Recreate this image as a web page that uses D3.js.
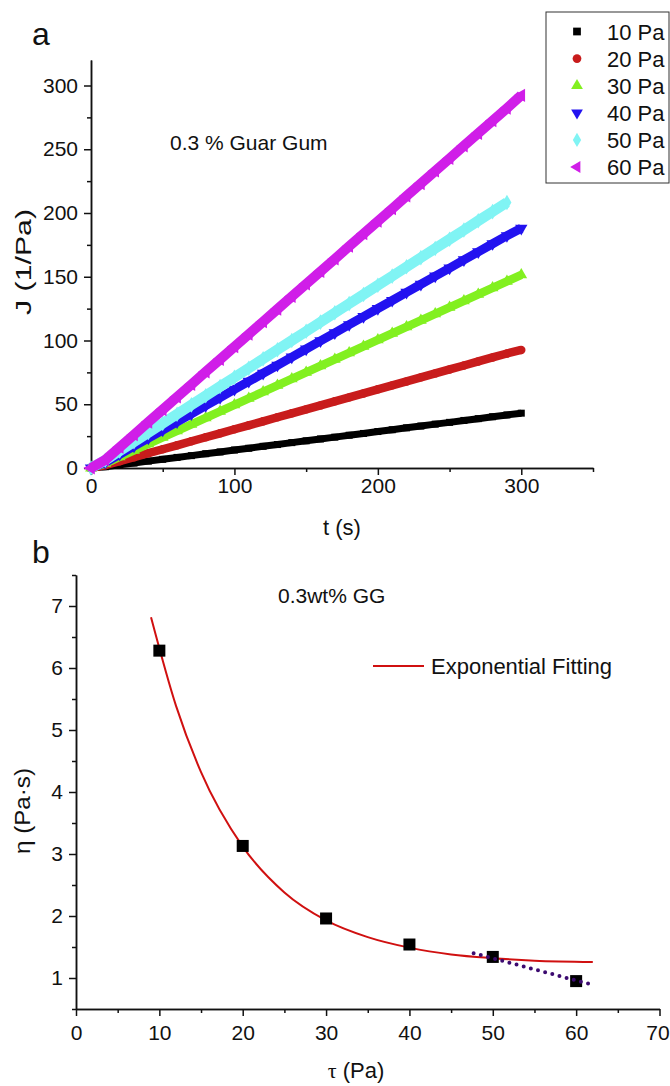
<!DOCTYPE html>
<html>
<head>
<meta charset="utf-8">
<script src="https://cdn.jsdelivr.net/npm/d3@7"></script>
<style>
    body { margin: 0; background: #fff; }
    svg text { font-family: "Liberation Sans", Arial, sans-serif; fill: #111; }
    .axis path, .axis line { stroke: #111; stroke-width: 1.5; }
    .axis text { font-size: 21px; }
</style>
</head>
<body>
<div id="chart"></div>
<script>
// Data
// ============================================================================
// panel a : creep compliance J (1/Pa) against time t (s)
const times = [0, 10, 20, 30, 40, 50, 60, 70, 80, 90, 100, 110, 120, 130, 140, 150,
    160, 170, 180, 190, 200, 210, 220, 230, 240, 250, 260, 270, 280, 290, 300];
const j10Pa = [0, 1.0, 2.5, 3.9, 5.4, 6.8, 8.3, 9.7, 11.2, 12.6, 14.1, 15.5, 17.0, 18.4, 19.9, 21.3,
    22.8, 24.2, 25.7, 27.1, 28.6, 30.0, 31.5, 32.9, 34.4, 35.8, 37.3, 38.7, 40.2, 41.6, 43.0];
const j20Pa = [0, 2.2, 5.3, 8.5, 11.6, 14.7, 17.8, 21.0, 24.1, 27.2, 30.4, 33.5, 36.6, 39.8, 42.9, 46.0,
    49.1, 52.3, 55.4, 58.5, 61.7, 64.8, 67.9, 71.1, 74.2, 77.3, 80.4, 83.6, 86.7, 89.8, 92.6];
const j30Pa = [0, 3.6, 8.7, 13.8, 18.9, 24.0, 29.1, 34.2, 39.3, 44.4, 49.5, 54.6, 59.7, 64.8, 69.9, 75.0,
    80.1, 85.2, 90.3, 95.4, 100.5, 105.6, 110.7, 115.8, 120.9, 126.0, 131.1, 136.2, 141.3, 146.4, 151.5];
const j40Pa = [0, 4.4, 10.8, 17.1, 23.5, 29.8, 36.2, 42.5, 48.9, 55.2, 61.6, 67.9, 74.3, 80.6, 87.0, 93.3,
    99.7, 106.0, 112.4, 118.7, 125.1, 131.4, 137.8, 144.1, 150.5, 156.8, 163.2, 169.5, 175.9, 182.2, 188.0];
const j50Pa = [0, 6.1, 13.4, 20.6, 27.8, 35.0, 42.2, 49.5, 56.7, 63.9, 71.1, 78.3, 85.6, 92.8, 100.0, 107.2,
    114.4, 121.7, 128.9, 136.1, 143.3, 150.5, 157.8, 165.0, 172.2, 179.4, 186.6, 193.9, 201.1, 208.3];
const j60Pa = [0, 6.4, 16.3, 26.1, 36.0, 45.8, 55.7, 65.5, 75.4, 85.2, 95.1, 104.9, 114.8, 124.6, 134.5, 144.3,
    154.2, 164.0, 173.9, 183.7, 193.6, 203.4, 213.3, 223.1, 233.0, 242.8, 252.7, 262.5, 272.4, 282.2, 292.3];
const seriesNames = ["10 Pa", "20 Pa", "30 Pa", "40 Pa", "50 Pa", "60 Pa"];
const xTicksA = [0, 100, 200, 300],
    xMinorA = [50, 150, 250, 350],
    yTicksA = [0, 50, 100, 150, 200, 250, 300],
    yMinorA = [25, 75, 125, 175, 225, 275];

// panel b : viscosity against shear stress
const stress = [10, 20, 30, 40, 50, 60];
const viscosity = [6.28, 3.13, 1.96, 1.54, 1.34, 0.95];
const fitStress = [9, 12, 15, 20, 25, 30, 35, 40, 45, 50, 55, 62];
const fitViscosity = [6.82, 5.39, 4.32, 3.12, 2.38, 1.93, 1.66, 1.49, 1.38, 1.32, 1.28, 1.26];
const trendStress = [47.7, 61.7];
const trendViscosity = [1.40, 0.90];
const xTicksB = [0, 10, 20, 30, 40, 50, 60, 70],
    xMinorB = [5, 15, 25, 35, 45, 55, 65],
    yTicksB = [1, 2, 3, 4, 5, 6, 7],
    yMinorB = [0.5, 1.5, 2.5, 3.5, 4.5, 5.5, 6.5, 7.5];

// Styles
// ============================================================================
const seriesData = [j10Pa, j20Pa, j30Pa, j40Pa, j50Pa, j60Pa];
const colors = ["#000000", "#c81c1c", "#82f020", "#2212f0", "#80f4f4", "#d01ee8"];
const bandWidth = [7, 8.5, 8.5, 9, 10.5, 10];
const shapes = [
    {type: d3.symbolSquare, rot: 0, size: 49},
    {type: d3.symbolCircle, rot: 0, size: 56},
    {type: d3.symbolTriangle, rot: 0, size: 60},
    {type: d3.symbolTriangle, rot: 180, size: 66},
    {type: d3.symbolDiamond, rot: 0, size: 70},
    {type: d3.symbolTriangle, rot: -90, size: 75}
];

const svg = d3.select("#chart")
    .append("svg")
        .attr("width", 670)
        .attr("height", 1086);

function drawAxes(x, y, xMaj, xMin, yMaj, yMin, xPad, yPad) {
    const y0 = y.range()[0], x0 = x.range()[0];
    svg.append("g").attr("class", "axis")
        .attr("transform", "translate(0," + y0 + ")")
        .call(d3.axisBottom(x).tickValues(xMin).tickSize(4).tickFormat("").tickSizeOuter(0));
    const gx = svg.append("g").attr("class", "axis")
        .attr("transform", "translate(0," + y0 + ")")
        .call(d3.axisBottom(x).tickValues(xMaj).tickSize(7).tickPadding(xPad)
            .tickFormat(d3.format("d")).tickSizeOuter(0));
    svg.append("g").attr("class", "axis")
        .attr("transform", "translate(" + x0 + ",0)")
        .call(d3.axisLeft(y).tickValues(yMin).tickSize(4).tickFormat("").tickSizeOuter(0));
    svg.append("g").attr("class", "axis")
        .attr("transform", "translate(" + x0 + ",0)")
        .call(d3.axisLeft(y).tickValues(yMaj).tickSize(7).tickPadding(yPad)
            .tickFormat(d3.format("d")).tickSizeOuter(0));
    return gx;
}

// Panel a
// ============================================================================
const xA = d3.scaleLinear().domain([0, 350]).range([91, 593]);
const yA = d3.scaleLinear().domain([0, 320]).range([468, 60]);

drawAxes(xA, yA, xTicksA, xMinorA, yTicksA, yMinorA, 3, 6);

seriesData.forEach((vals, i) => {
    const pts = vals.map((v, k) => [times[k], v]);
    svg.append("path")
        .datum(pts)
        .attr("fill", "none")
        .attr("stroke", colors[i])
        .attr("stroke-width", bandWidth[i])
        .attr("d", d3.line().x(d => xA(d[0])).y(d => yA(d[1])));
    svg.append("g").selectAll("path")
        .data(pts)
        .join("path")
            .attr("transform", d => "translate(" + xA(d[0]) + "," + yA(d[1]) + ") rotate(" + shapes[i].rot + ")")
            .attr("fill", colors[i])
            .attr("d", d3.symbol().type(shapes[i].type).size(shapes[i].size));
});

svg.append("text")
    .attr("x", 32).attr("y", 45)
    .style("font-size", "32px")
    .text("a");

svg.append("text")
    .attr("x", 170).attr("y", 150)
    .style("font-size", "21px")
    .text("0.3 % Guar Gum");

svg.append("text")
    .attr("x", 342).attr("y", 535)
    .attr("text-anchor", "middle")
    .style("font-size", "22px")
    .text("t (s)");

svg.append("text")
    .attr("transform", "translate(31,262) rotate(-90)")
    .attr("text-anchor", "middle")
    .attr("textLength", 106)
    .attr("lengthAdjust", "spacingAndGlyphs")
    .style("font-size", "22px")
    .text("J (1/Pa)");

// legend
svg.append("rect")
    .attr("x", 546).attr("y", 12)
    .attr("width", 123).attr("height", 171)
    .attr("fill", "#fff")
    .attr("stroke", "#333")
    .attr("stroke-width", 1);

seriesNames.forEach((name, i) => {
    const cy = 31.5 + i * 27.1;
    svg.append("path")
        .attr("transform", "translate(577," + cy + ") rotate(" + shapes[i].rot + ")")
        .attr("fill", colors[i])
        .attr("d", d3.symbol().type(shapes[i].type).size(60));
    svg.append("text")
        .attr("x", 607).attr("y", cy + 8)
        .style("font-size", "22px")
        .text(name);
});

// Panel b
// ============================================================================
const xB = d3.scaleLinear().domain([0, 70]).range([76, 659.5]);
const yB = d3.scaleLinear().domain([0.5, 7.5]).range([1009, 575]);

const gxB = drawAxes(xB, yB, xTicksB, xMinorB, yTicksB, yMinorB, 9, 6);
// keep the last label inside the page
gxB.selectAll(".tick text").filter(d => d == 70).attr("dx", -2);

// exponential fitting curve
svg.append("path")
    .datum(fitStress.map((s, k) => [s, fitViscosity[k]]))
    .attr("fill", "none")
    .attr("stroke", "#d01010")
    .attr("stroke-width", 2)
    .attr("d", d3.line().curve(d3.curveMonotoneX).x(d => xB(d[0])).y(d => yB(d[1])));

// measured points
svg.append("g").selectAll("rect")
    .data(stress.map((s, k) => [s, viscosity[k]]))
    .join("rect")
        .attr("x", d => xB(d[0]) - 6)
        .attr("y", d => yB(d[1]) - 6)
        .attr("width", 12).attr("height", 12)
        .attr("fill", "#000");

// dotted trend
svg.append("path")
    .datum(trendStress.map((s, k) => [s, trendViscosity[k]]))
    .attr("fill", "none")
    .attr("stroke", "#3c0a70")
    .attr("stroke-width", 4)
    .attr("stroke-linecap", "round")
    .attr("stroke-dasharray", "0,7.4")
    .attr("d", d3.line().x(d => xB(d[0])).y(d => yB(d[1])));

svg.append("text")
    .attr("x", 32).attr("y", 563)
    .style("font-size", "32px")
    .text("b");

svg.append("text")
    .attr("x", 278).attr("y", 603)
    .style("font-size", "21px")
    .text("0.3wt% GG");

svg.append("line")
    .attr("x1", 373).attr("x2", 424)
    .attr("y1", 666).attr("y2", 666)
    .attr("stroke", "#d01010")
    .attr("stroke-width", 2);

svg.append("text")
    .attr("x", 431).attr("y", 674)
    .style("font-size", "22px")
    .text("Exponential Fitting");

const xt = svg.append("text")
    .attr("x", 356).attr("y", 1078)
    .attr("text-anchor", "middle")
    .style("font-size", "22px");
xt.append("tspan").style("font-family", "'Liberation Serif', serif").text("τ");
xt.append("tspan").text(" (Pa)");

svg.append("text")
    .attr("transform", "translate(30,811) rotate(-90)")
    .attr("text-anchor", "middle")
    .attr("textLength", 86)
    .attr("lengthAdjust", "spacingAndGlyphs")
    .style("font-size", "22px")
    .text("η (Pa·s)");
</script>
</body>
</html>
